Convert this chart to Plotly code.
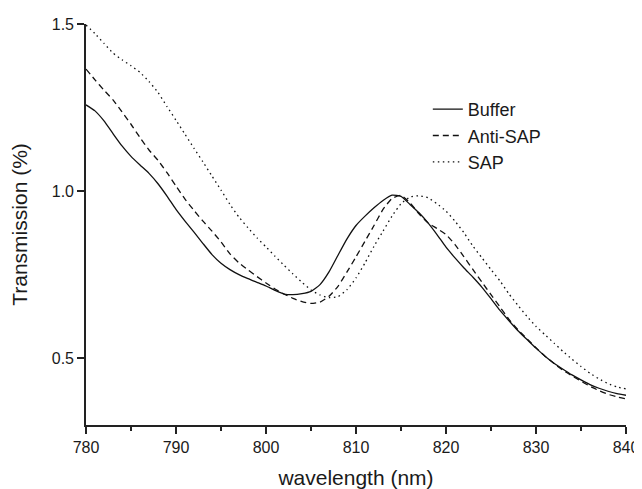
import plotly.graph_objects as go

wavelength = list(range(780, 841))

buffer_vals = [1.258, 1.240, 1.210, 1.172, 1.135, 1.104, 1.078, 1.053, 1.022, 0.985,
               0.945, 0.910, 0.877, 0.843, 0.810, 0.784, 0.765, 0.750, 0.738, 0.727,
               0.716, 0.703, 0.692, 0.690, 0.693, 0.700, 0.720, 0.758, 0.808, 0.857,
               0.897, 0.925, 0.950, 0.972, 0.988, 0.984, 0.960, 0.935, 0.905, 0.870,
               0.832, 0.800, 0.770, 0.742, 0.712, 0.678, 0.643, 0.612, 0.582, 0.556,
               0.530, 0.506, 0.485, 0.467, 0.450, 0.435, 0.421, 0.410, 0.401, 0.394,
               0.389]

anti_sap_vals = [1.365, 1.333, 1.302, 1.273, 1.237, 1.200, 1.160, 1.123, 1.092, 1.055,
                 1.015, 0.976, 0.942, 0.910, 0.880, 0.848, 0.812, 0.785, 0.764, 0.744,
                 0.725, 0.707, 0.692, 0.679, 0.669, 0.664, 0.668, 0.685, 0.715, 0.758,
                 0.803, 0.850, 0.897, 0.945, 0.978, 0.987, 0.965, 0.932, 0.905, 0.888,
                 0.870, 0.840, 0.803, 0.765, 0.727, 0.690, 0.653, 0.616, 0.585, 0.558,
                 0.531, 0.506, 0.484, 0.464, 0.447, 0.431, 0.416, 0.403, 0.392, 0.384,
                 0.378]

sap_vals = [1.497, 1.471, 1.442, 1.413, 1.393, 1.375, 1.355, 1.328, 1.295, 1.253,
            1.212, 1.170, 1.128, 1.087, 1.045, 1.003, 0.960, 0.922, 0.890, 0.860,
            0.833, 0.805, 0.778, 0.752, 0.727, 0.704, 0.689, 0.681, 0.684, 0.705,
            0.740, 0.785, 0.835, 0.880, 0.925, 0.962, 0.982, 0.986, 0.980, 0.962,
            0.940, 0.910, 0.875, 0.835, 0.800, 0.765, 0.731, 0.692, 0.658, 0.625,
            0.595, 0.570, 0.545, 0.520, 0.497, 0.475, 0.455, 0.438, 0.424, 0.414,
            0.408]

series_names = ["Buffer", "Anti-SAP", "SAP"]
x_ticks = [780, 790, 800, 810, 820, 830, 840]
y_ticks = [0.5, 1.0, 1.5]

styles = {"Buffer": "solid", "Anti-SAP": "6px,4px", "SAP": "1.5px,3.5px"}

fig = go.Figure()
for name, vals in zip(series_names, [buffer_vals, anti_sap_vals, sap_vals]):
    fig.add_trace(go.Scatter(
        x=wavelength, y=vals, name=name, mode="lines",
        line=dict(color="#111111", width=1.3, dash=styles[name], shape="spline", smoothing=0.5),
    ))

axis_common = dict(showline=True, linecolor="#222", linewidth=1.6, ticks="outside",
                   ticklen=7, tickwidth=1.6, tickcolor="#222", showgrid=False,
                   zeroline=False, tickfont=dict(size=16, color="#1a1a1a"), automargin=False)

# the page body adds an 8px offset, so the figure is sized to fit the window
fig.update_layout(
    width=634, height=481,
    margin=dict(l=78, r=16, t=16, b=64),
    plot_bgcolor="white", paper_bgcolor="white",
    font=dict(family="Liberation Sans, Arial, sans-serif", color="#1a1a1a"),
    showlegend=True,
    legend=dict(x=0.633, y=0.721, xanchor="left", yanchor="middle",
                bgcolor="rgba(0,0,0,0)", font=dict(size=18), tracegroupgap=0),
    xaxis=dict(range=[780, 840], tickvals=x_ticks,
               minor=dict(dtick=5, tick0=780, ticks="outside", ticklen=4, tickwidth=1.6, tickcolor="#222"),
               title=dict(text="wavelength (nm)", font=dict(size=21), standoff=15),
               **axis_common),
    yaxis=dict(range=[0.3, 1.5], tickvals=y_ticks, tickformat=".1f",
               title=dict(text="Transmission (%)", font=dict(size=21), standoff=22),
               **axis_common),
)

fig.write_html("out.html")
